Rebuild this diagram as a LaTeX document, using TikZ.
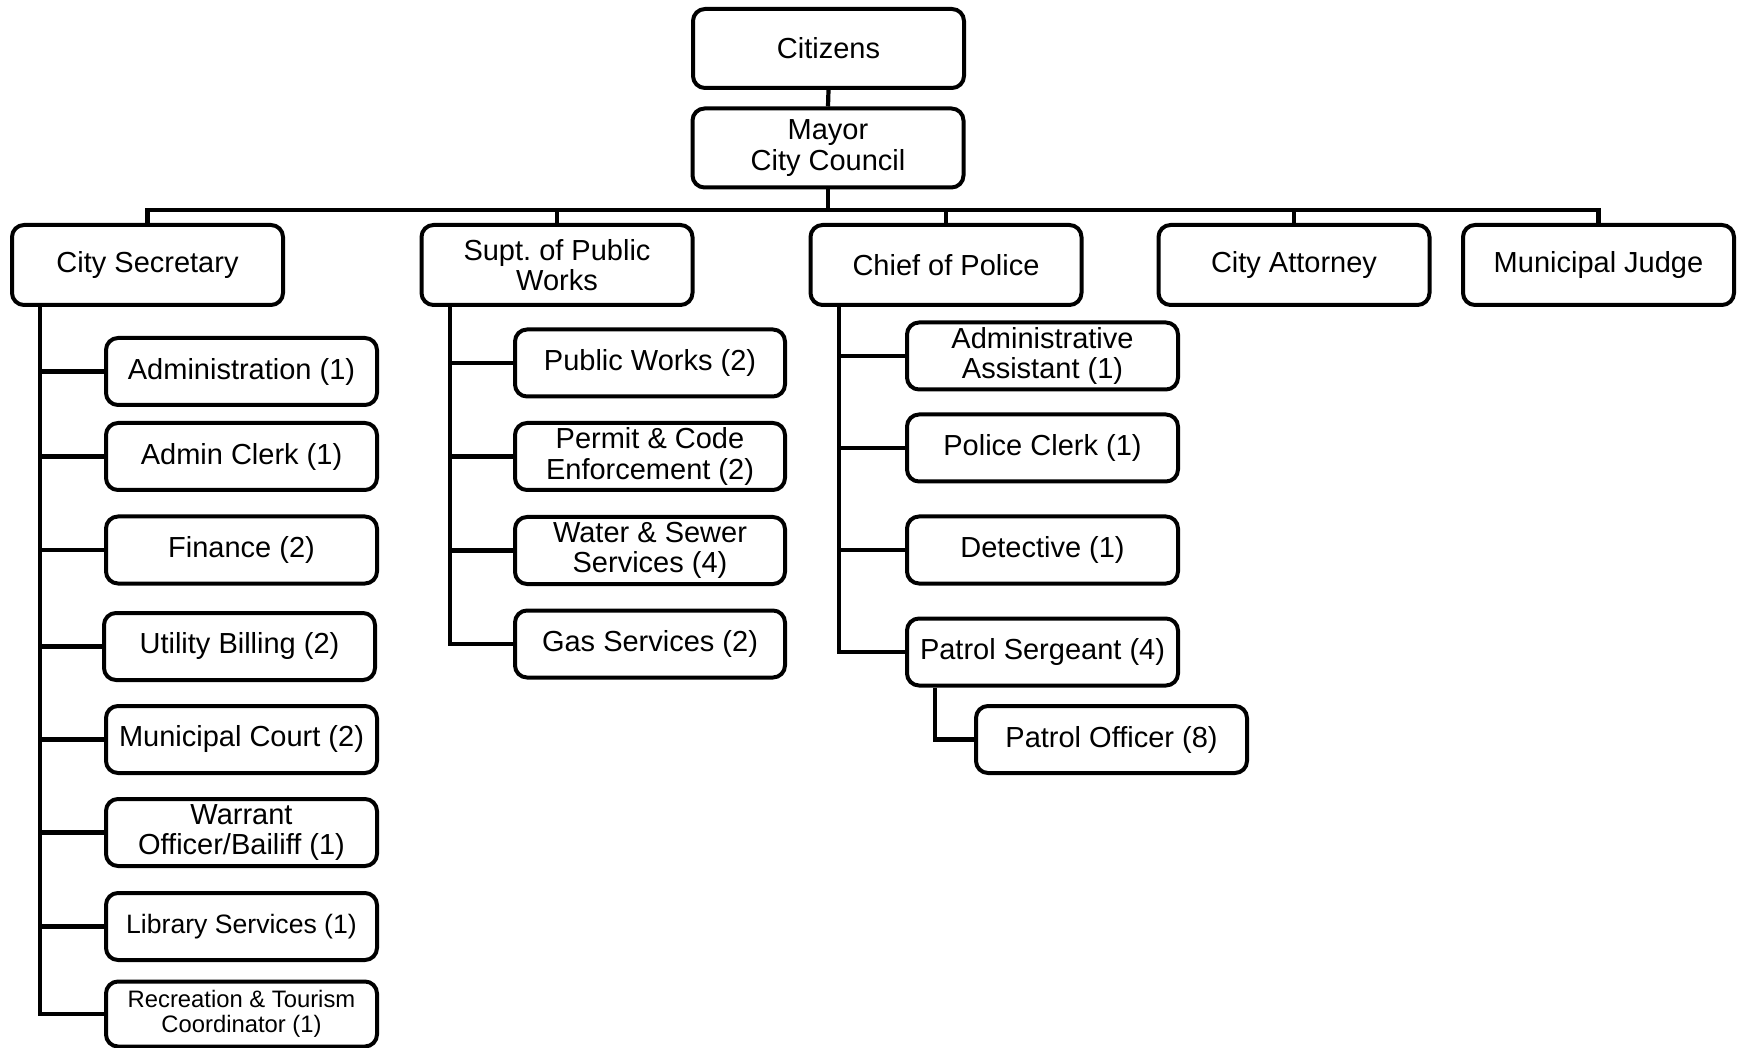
\documentclass[tikz,border=0pt]{standalone}
\usepackage{fontspec}
\setmainfont{Liberation Sans}
\frenchspacing
\begin{document}
\begin{tikzpicture}[x=0.5pt,y=-0.5pt,
  box/.style={draw=black,line width=2pt,rounded corners=6pt,fill=white,inner sep=0pt,align=center,
    font=\fontsize{14.5}{15.3}\selectfont,minimum width=135.5pt},
  topbox/.style={box,minimum height=39.5pt},
  lvbox/.style={box,minimum height=40pt},
  subbox/.style={box,minimum height=33.5pt},
  conn/.style={line width=2.1pt,line join=miter}]
\useasboundingbox (0,0) rectangle (1737,1048);
% top
\node[topbox] (cit) at (828.5,48.5) {Citizens};
\node[topbox] (mayor) at (828,148) {Mayor\\City Council};
% level 2
\node[lvbox] (cs) at (147.5,265) {City Secretary};
\node[lvbox] (supt) at (557,265) {Supt. of Public\\Works};
\node[lvbox] (chief) at (946,265) {Chief of Police};
\node[lvbox] (att) at (1294,265) {City Attorney};
\node[lvbox] (judge) at (1598.5,265) {Municipal Judge};
% city secretary children
\node[subbox] (adm) at (241.5,371.5) {Administration (1)};
\node[subbox] (clerk) at (241.5,456.5) {Admin Clerk (1)};
\node[subbox] (fin) at (241.5,550) {Finance (2)};
\node[subbox] (util) at (239.5,646.5) {Utility Billing (2)};
\node[subbox] (mc) at (241.5,739.5) {Municipal Court (2)};
\node[subbox] (war) at (241.5,832.5) {Warrant\\Officer/Bailiff (1)};
\node[subbox,font=\fontsize{13.3}{14}\selectfont] (lib) at (241.5,926.5) {Library Services (1)};
\node[subbox,minimum height=32.5pt,font=\fontsize{11.9}{12.7}\selectfont] (rec) at (241.5,1014) {Recreation \& Tourism\\Coordinator (1)};
% supt children
\node[subbox,minimum width=135pt] (pw) at (650,363) {Public Works (2)};
\node[subbox,minimum width=135pt] (perm) at (650,456.5) {Permit \& Code\\Enforcement (2)};
\node[subbox,minimum width=135pt] (water) at (650,550.5) {Water \& Sewer\\Services (4)};
\node[subbox,minimum width=135pt] (gas) at (650,644) {Gas Services (2)};
% chief children
\node[subbox] (asst) at (1042.5,356) {Administrative\\Assistant (1)};
\node[subbox] (pclerk) at (1042.5,448) {Police Clerk (1)};
\node[subbox] (det) at (1042.5,550) {Detective (1)};
\node[subbox] (sgt) at (1042.5,652) {Patrol Sergeant (4)};
\node[subbox] (off) at (1111.5,739.5) {Patrol Officer (8)};
% connectors
\coordinate (bus) at (828,210);
\coordinate (t1) at (40,0);
\coordinate (t2) at (450,0);
\coordinate (t3) at (839,0);
\coordinate (t4) at (935,0);
\draw[conn] (cit.south) -- (mayor.north);
\draw[conn] (mayor.south) -- (mayor.south |- bus);
\draw[conn] (cs.north) -- (cs.north |- bus) -- (judge.north |- bus) -- (judge.north);
\draw[conn] (supt.north) -- (supt.north |- bus);
\draw[conn] (chief.north) -- (chief.north |- bus);
\draw[conn] (att.north) -- (att.north |- bus);
% city secretary tree
\draw[conn] (t1 |- cs.south) |- (rec.west);
\foreach \n in {adm,clerk,fin,util,mc,war,lib}
  \draw[conn] (t1 |- \n.west) -- (\n.west);
% supt tree
\draw[conn] (t2 |- supt.south) |- (gas.west);
\foreach \n in {pw,perm,water}
  \draw[conn] (t2 |- \n.west) -- (\n.west);
% chief tree
\draw[conn] (t3 |- chief.south) |- (sgt.west);
\foreach \n in {asst,pclerk,det}
  \draw[conn] (t3 |- \n.west) -- (\n.west);
\draw[conn] (t4 |- sgt.south) |- (off.west);
\end{tikzpicture}
\end{document}
